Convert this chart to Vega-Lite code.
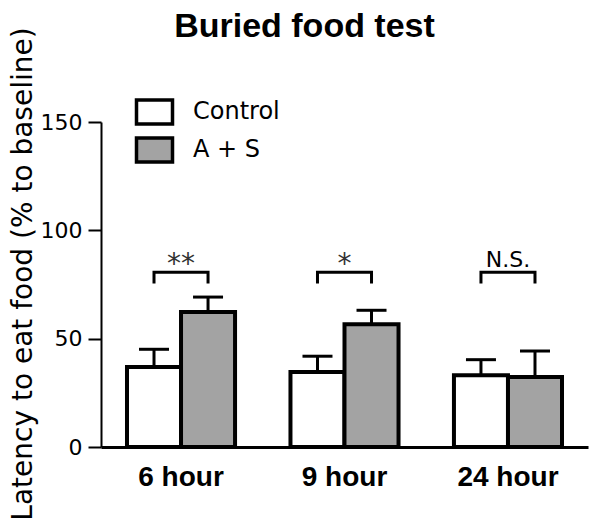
{
  "$schema": "https://vega.github.io/schema/vega-lite/v6.json",
  "autosize": {"type": "none"},
  "padding": {"left": 101, "top": 122, "right": 12, "bottom": 85},
  "width": 487,
  "height": 325,
  "background": "white",
  "title": {
    "text": "Buried food test",
    "font": "Liberation Sans",
    "fontSize": 34,
    "fontWeight": "bold",
    "color": "black",
    "anchor": "middle",
    "baseline": "alphabetic",
    "dx": -40,
    "dy": 52,
    "offset": 8
  },
  "config": {
    "view": {"stroke": null},
    "axis": {"grid": false}
  },
  "datasets": {
    "bars": [
      {"hour": "6 hour", "group": "Control", "mean": 36.9, "upper": 45.1},
      {"hour": "6 hour", "group": "A + S", "mean": 62.3, "upper": 69.2},
      {"hour": "9 hour", "group": "Control", "mean": 34.6, "upper": 41.9},
      {"hour": "9 hour", "group": "A + S", "mean": 56.6, "upper": 63.1},
      {"hour": "24 hour", "group": "Control", "mean": 33.1, "upper": 40.3},
      {"hour": "24 hour", "group": "A + S", "mean": 32.3, "upper": 44.3}
    ],
    "brackets": [
      {"hour": "6 hour", "group": "Control", "y": 75.5, "ord": 1},
      {"hour": "6 hour", "group": "Control", "y": 80.6, "ord": 2},
      {"hour": "6 hour", "group": "A + S", "y": 80.6, "ord": 3},
      {"hour": "6 hour", "group": "A + S", "y": 75.5, "ord": 4},
      {"hour": "9 hour", "group": "Control", "y": 75.5, "ord": 1},
      {"hour": "9 hour", "group": "Control", "y": 80.6, "ord": 2},
      {"hour": "9 hour", "group": "A + S", "y": 80.6, "ord": 3},
      {"hour": "9 hour", "group": "A + S", "y": 75.5, "ord": 4},
      {"hour": "24 hour", "group": "Control", "y": 75.5, "ord": 1},
      {"hour": "24 hour", "group": "Control", "y": 80.6, "ord": 2},
      {"hour": "24 hour", "group": "A + S", "y": 80.6, "ord": 3},
      {"hour": "24 hour", "group": "A + S", "y": 75.5, "ord": 4}
    ],
    "marks": [
      {"hour": "6 hour", "label": "**", "y": 80.2},
      {"hour": "9 hour", "label": "*", "y": 80.2},
      {"hour": "24 hour", "label": "N.S.", "y": 83}
    ]
  },
  "encoding": {
    "x": {
      "field": "hour",
      "type": "nominal",
      "sort": ["6 hour", "9 hour", "24 hour"],
      "scale": {"paddingInner": 0.339, "paddingOuter": 0.159},
      "axis": {
        "title": null,
        "ticks": false,
        "labelAngle": 0,
        "labelFont": "Liberation Sans",
        "labelFontSize": 28,
        "labelFontWeight": "bold",
        "labelColor": "black",
        "labelPadding": 16,
        "domainColor": "black",
        "domainWidth": 3
      }
    }
  },
  "layer": [
    {
      "data": {"name": "bars"},
      "mark": {"type": "rule", "color": "black", "strokeWidth": 3},
      "encoding": {
        "xOffset": {"field": "group", "type": "nominal", "sort": ["Control", "A + S"], "scale": {"paddingInner": 0, "paddingOuter": 0}},
        "y": {
          "field": "mean",
          "type": "quantitative",
          "scale": {"domain": [0, 150], "nice": false},
          "axis": {
            "title": "Latency to eat food (% to baseline)",
            "titleFont": "DejaVu Sans",
            "titleFontSize": 28,
            "titleFontWeight": "normal",
            "titleColor": "black",
            "titleX": -78,
            "titleY": 151.5,
            "titleAngle": -90,
            "titleAlign": "center",
            "titleBaseline": "middle",
            "values": [0, 50, 100, 150],
            "labelFont": "DejaVu Sans",
            "labelFontSize": 22,
            "labelColor": "black",
            "labelPadding": 6,
            "tickSize": 13,
            "tickWidth": 2,
            "tickColor": "black",
            "domainColor": "black",
            "domainWidth": 2
          }
        },
        "y2": {"field": "upper"}
      }
    },
    {
      "data": {"name": "bars"},
      "mark": {"type": "tick", "orient": "horizontal", "size": 30, "thickness": 3, "color": "black", "opacity": 1},
      "encoding": {
        "xOffset": {"field": "group", "type": "nominal", "sort": ["Control", "A + S"]},
        "y": {"field": "upper", "type": "quantitative"}
      }
    },
    {
      "data": {"name": "bars"},
      "mark": {"type": "bar", "stroke": "black", "strokeWidth": 4, "opacity": 1},
      "encoding": {
        "xOffset": {"field": "group", "type": "nominal", "sort": ["Control", "A + S"]},
        "y": {"field": "mean", "type": "quantitative"},
        "fill": {
          "field": "group",
          "type": "nominal",
          "scale": {"domain": ["Control", "A + S"], "range": ["white", "#a3a3a3"]},
          "legend": {
            "orient": "none",
            "legendX": 39.5,
            "legendY": -24,
            "title": null,
            "padding": 0,
            "symbolType": "M-1.5,-1H1.5V1H-1.5Z",
            "symbolSize": 576,
            "symbolStrokeColor": "black",
            "symbolStrokeWidth": 3.5,
            "symbolOpacity": 1,
            "labelFont": "DejaVu Sans",
            "labelFontSize": 24,
            "labelColor": "black",
            "labelOffset": 24.5,
            "rowPadding": 0
          }
        }
      }
    },
    {
      "data": {"name": "brackets"},
      "mark": {"type": "line", "color": "black", "strokeWidth": 3, "strokeJoin": "miter", "strokeCap": "butt"},
      "encoding": {
        "xOffset": {"field": "group", "type": "nominal", "sort": ["Control", "A + S"]},
        "y": {"field": "y", "type": "quantitative"},
        "detail": {"field": "hour"},
        "order": {"field": "ord", "type": "quantitative"}
      }
    },
    {
      "data": {"name": "marks"},
      "transform": [{"filter": "datum.label !== 'N.S.'"}],
      "mark": {"type": "text", "font": "DejaVu Sans", "fontSize": 28, "color": "#333333", "baseline": "alphabetic", "align": "center"},
      "encoding": {
        "y": {"field": "y", "type": "quantitative"},
        "text": {"field": "label"}
      }
    },
    {
      "data": {"name": "marks"},
      "transform": [{"filter": "datum.label === 'N.S.'"}],
      "mark": {"type": "text", "font": "DejaVu Sans", "fontSize": 22, "color": "black", "baseline": "alphabetic", "align": "center"},
      "encoding": {
        "y": {"field": "y", "type": "quantitative"},
        "text": {"field": "label"}
      }
    }
  ]
}
